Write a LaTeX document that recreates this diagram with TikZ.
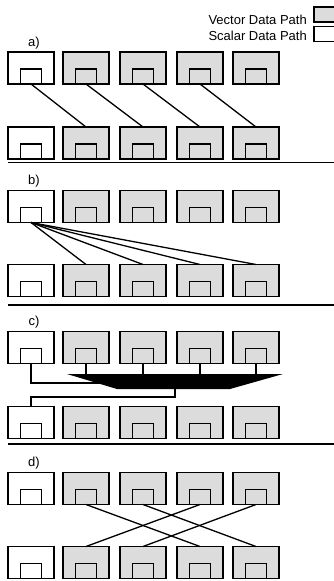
\documentclass[tikz,border=0pt]{standalone}
\usepackage{fontspec}
\setmainfont{Liberation Sans}
\definecolor{vecfill}{RGB}{220,220,220}
\tikzset{
  obox/.style={draw, line width=1.6pt, minimum width=46pt, minimum height=32pt,
               inner sep=0pt, outer sep=0pt},
  ibox/.style={draw, line width=1.6pt, minimum width=21pt, minimum height=15pt,
               inner sep=0pt, outer sep=0pt, anchor=south},
  legbox/.style={draw, line width=1.5pt, minimum width=30pt, minimum height=15pt,
                 inner sep=0pt, outer sep=0pt, anchor=west},
  wire/.style={line width=1.3pt},
  sepline/.style={line width=1.4pt},
  lbl/.style={font=\fontsize{13}{15}\selectfont, inner sep=0pt}
}
\begin{document}
\begin{tikzpicture}[x=1pt,y=-1pt]
\useasboundingbox (0,0) rectangle (334,581);
\clip (0,0) rectangle (334,581);

% legend
\node[lbl, anchor=east] (leg-v) at (307,20) {Vector Data Path};
\node[lbl, anchor=east] (leg-s) at (307,36) {Scalar Data Path};
\node[legbox, fill=vecfill] (leg-vbox) at (314,14.5) {};
\node[legbox, fill=white] (leg-sbox) at (314,34) {};

% four panels: a top row of processors and a bottom row
\foreach \p/\ty/\by in {a/68/143, b/206.5/280.5, c/347.5/422.5, d/488.5/562.5} {
  \node[lbl] (lab-\p) at (34,\ty-25) {\p)};
  \foreach \k/\cx/\f in {1/31/white, 2/86/vecfill, 3/143/vecfill, 4/200/vecfill, 5/256/vecfill} {
    \node[obox, fill=\f] (\p-t\k) at (\cx,\ty) {};
    \node[ibox, fill=\f] (\p-t\k-in) at (\p-t\k.south) {};
    \node[obox, fill=\f] (\p-b\k) at (\cx,\by) {};
    \node[ibox, fill=\f] (\p-b\k-in) at (\p-b\k.south) {};
  }
}

% separators between panels
\draw[sepline] (8,162.5) -- (334,162.5);
\draw[sepline] (8,305) -- (334,305);
\draw[sepline] (8,444) -- (334,444);

% a) neighbour shift
\draw[wire] (a-t1-in.south) -- (a-b2.north);
\draw[wire] (a-t2-in.south) -- (a-b3.north);
\draw[wire] (a-t3-in.south) -- (a-b4.north);
\draw[wire] (a-t4-in.south) -- (a-b5.north);

% b) broadcast from the scalar unit
\foreach \k in {2,...,5}
  \draw[wire] (b-t1-in.south) -- (b-b\k.north);

% c) reduction tree
\coordinate (trTL) at (67,374);
\coordinate (trTR) at (283,374);
\coordinate (trBR) at (230,389);
\coordinate (trBL) at (117,389);
\fill (trTL) -- (trTR) -- (trBR) -- (trBL) -- cycle;
\coordinate (busin) at (100,383);
\coordinate (busout) at (175,389);
\coordinate (busturn) at (175,397);
\foreach \k in {2,...,5}
  \draw[wire] (c-t\k-in.south) -- (c-t\k-in.south |- trTL);
\draw[wire] (c-t1-in.south) |- (busin);
\draw[wire] (busout) -- (busturn) -| (c-b1.north);

% d) permutation
\draw[wire] (d-t2-in.south) -- (d-b4.north);
\draw[wire] (d-t3-in.south) -- (d-b5.north);
\draw[wire] (d-t4-in.south) -- (d-b2.north);
\draw[wire] (d-t5-in.south) -- (d-b3.north);
\end{tikzpicture}
\end{document}
